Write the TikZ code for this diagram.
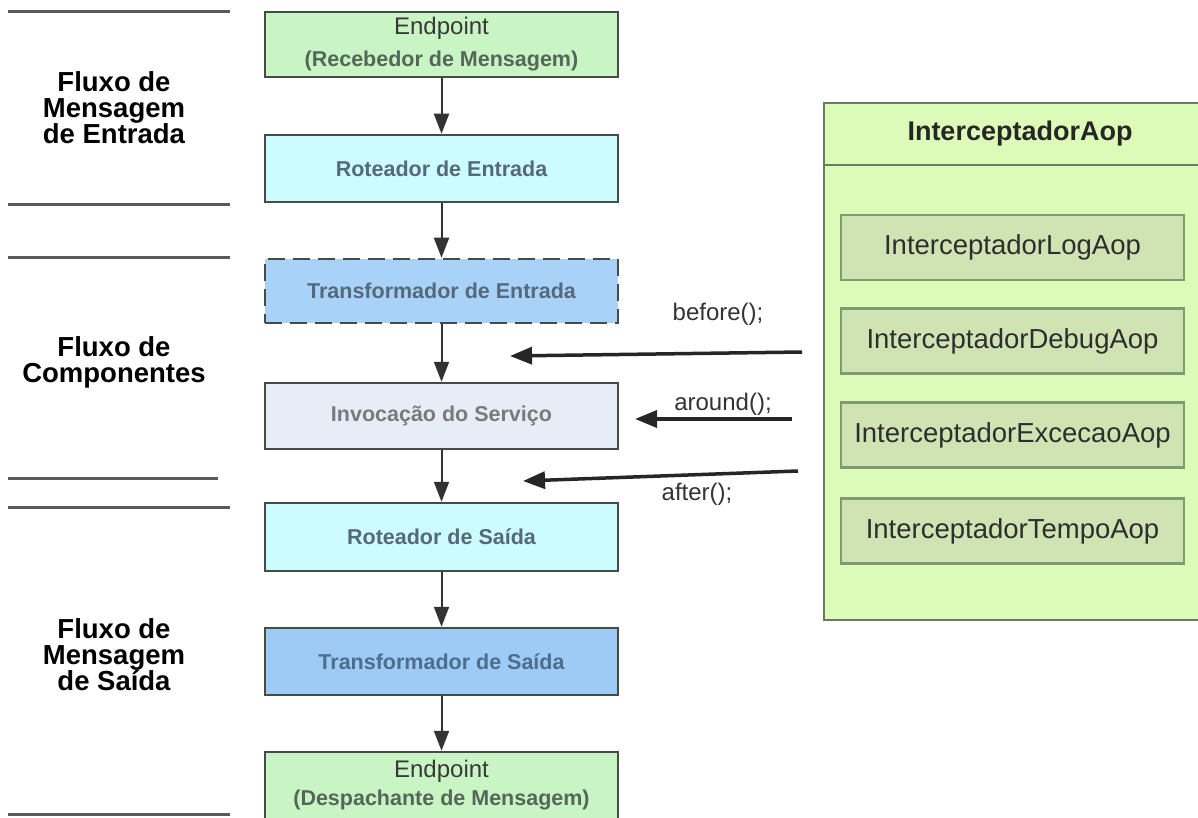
\documentclass[tikz,border=0pt]{standalone}
\usepackage{fontspec}
\setmainfont{Liberation Sans}
\usetikzlibrary{arrows.meta}

\definecolor{epgreen}{HTML}{C9F5C4}
\definecolor{rtcyan}{HTML}{CCFCFF}
\definecolor{tfblue}{HTML}{9DCBF6}
\definecolor{tfbluelight}{HTML}{A8D2F8}
\definecolor{svcgray}{HTML}{E7EDF7}
\definecolor{aopouter}{HTML}{DDFBB8}
\definecolor{aopinner}{HTML}{D0E4B3}
\definecolor{boxline}{HTML}{454C45}
\definecolor{aopline}{HTML}{6B7B63}
\definecolor{aopinline}{HTML}{7F9C70}
\definecolor{rtext}{HTML}{56697A}
\definecolor{tftext}{HTML}{4E6C8C}
\definecolor{svctext}{HTML}{7A7A7A}
\definecolor{eptext}{HTML}{55665A}
\definecolor{sepline}{HTML}{5A5A5A}

\tikzset{
  flowbox/.style={draw=boxline, line width=2.5pt, rectangle, inner sep=0pt,
    minimum width=353pt, font=\bfseries\fontsize{21.5}{24}\selectfont},
  flowarrow/.style={draw=black!80, line width=2pt,
    -{Triangle[length=20pt,width=15pt]}},
  hookarrow/.style={draw=black!85, line width=3.5pt,
    -{Triangle[length=22pt,width=17pt]}},
  hooklabel/.style={font=\fontsize{24}{26}\selectfont, text=black!80},
  sidelabel/.style={align=center, font=\bfseries\fontsize{27.5}{26}\selectfont},
  sepline/.style={draw=sepline, line width=3pt},
  aopitem/.style={draw=aopinline, line width=2.5pt, fill=aopinner, rectangle,
    inner sep=0pt, minimum width=343pt, minimum height=65pt,
    font=\fontsize{27.5}{30}\selectfont, text=black!82},
}

\begin{document}
\begin{tikzpicture}[x=1pt,y=-1pt]
  \useasboundingbox (0,0) rectangle (1198,818);
  \fill[white] (0,0) rectangle (1198,818);

  % section separators on the left
  \draw[sepline] (8,12) -- (230,12);
  \draw[sepline] (8,205) -- (230,205);
  \draw[sepline] (8,257) -- (230,257);
  \draw[sepline] (8,478) -- (218,478);
  \draw[sepline] (8,507) -- (230,507);
  \draw[sepline] (8,814) -- (230,814);

  % section titles
  \node[sidelabel] (secin) at (114,108) {Fluxo de\\Mensagem\\de Entrada};
  \node[sidelabel] (seccomp) at (114,362) {Fluxo de\\Componentes};
  \node[sidelabel] (secout) at (114,655) {Fluxo de\\Mensagem\\de Saída};

  % main flow
  \node[flowbox, fill=epgreen, minimum height=65pt, align=center]
    (epin) at (441.5,44.5)
    {{\mdseries\fontsize{24}{32}\selectfont\color{black!78}Endpoint}\\[8pt]
     {\color{eptext}\fontsize{21.5}{32}\selectfont(Recebedor de Mensagem)}};
  \node[flowbox, fill=rtcyan, minimum height=67pt, text=rtext]
    (rin) at (441.5,168.5) {Roteador de Entrada};
  \node[flowbox, fill=tfbluelight, minimum height=64pt, text=rtext,
        dash pattern=on 17pt off 8pt]
    (tin) at (441.5,291) {Transformador de Entrada};
  \node[flowbox, fill=svcgray, minimum height=66pt, text=svctext]
    (svc) at (441.5,416) {Invocação do Serviço};
  \node[flowbox, fill=rtcyan, minimum height=68pt, text=rtext]
    (rout) at (441.5,537) {Roteador de Saída};
  \node[flowbox, fill=tfblue, minimum height=67pt, text=tftext]
    (tout) at (441.5,661.5) {Transformador de Saída};
  \node[flowbox, fill=epgreen, minimum height=88pt]
    (epout) at (441.5,796) {};
  \node[align=center, inner sep=0pt] (epouttext) at (441.5,785)
    {{\fontsize{24}{30}\selectfont\color{black!78}Endpoint}\\[6pt]
     {\bfseries\color{eptext}\fontsize{21.5}{30}\selectfont(Despachante de Mensagem)}};

  \draw[flowarrow] (epin) -- (rin);
  \draw[flowarrow] (rin) -- (tin);
  \draw[flowarrow] (tin) -- (svc);
  \draw[flowarrow] (svc) -- (rout);
  \draw[flowarrow] (rout) -- (tout);
  \draw[flowarrow] (tout) -- (epout);

  % interceptor panel
  \node[draw=aopline, line width=2.5pt, fill=aopouter, rectangle, inner sep=0pt,
        minimum width=376pt, minimum height=517pt]
    (aop) at (1012,361.5) {};
  \node[rectangle, inner sep=0pt, minimum width=376pt, minimum height=63pt,
        font=\bfseries\fontsize{27}{28}\selectfont, text=black!85, anchor=north]
    (aophead) at (aop.north) {\hspace*{16pt}InterceptadorAop};
  \draw[aopline, line width=1.5pt] (aophead.south west) -- (aophead.south east);

  \node[aopitem] (ilog) at (1012.5,247.5) {InterceptadorLogAop};
  \node[aopitem] (idebug) at (1012.5,341) {InterceptadorDebugAop};
  \node[aopitem] (iexc) at (1012.5,435) {InterceptadorExcecaoAop};
  \node[aopitem] (itempo) at (1012.5,531) {InterceptadorTempoAop};

  % advice hooks into the flow
  \coordinate (bstart) at (802,352);
  \coordinate (bend) at (510,356);
  \coordinate (astart) at (792,419);
  \coordinate (aend) at (635,419);
  \coordinate (fstart) at (798,471);
  \coordinate (fend) at (523,481);
  \draw[hookarrow] (bstart) -- (bend);
  \draw[hookarrow] (astart) -- (aend);
  \draw[hookarrow] (fstart) -- (fend);
  \node[hooklabel] (lbefore) at (718,314) {before();};
  \node[hooklabel] (laround) at (723,404) {around();};
  \node[hooklabel] (lafter) at (697,494) {after();};
\end{tikzpicture}
\end{document}
